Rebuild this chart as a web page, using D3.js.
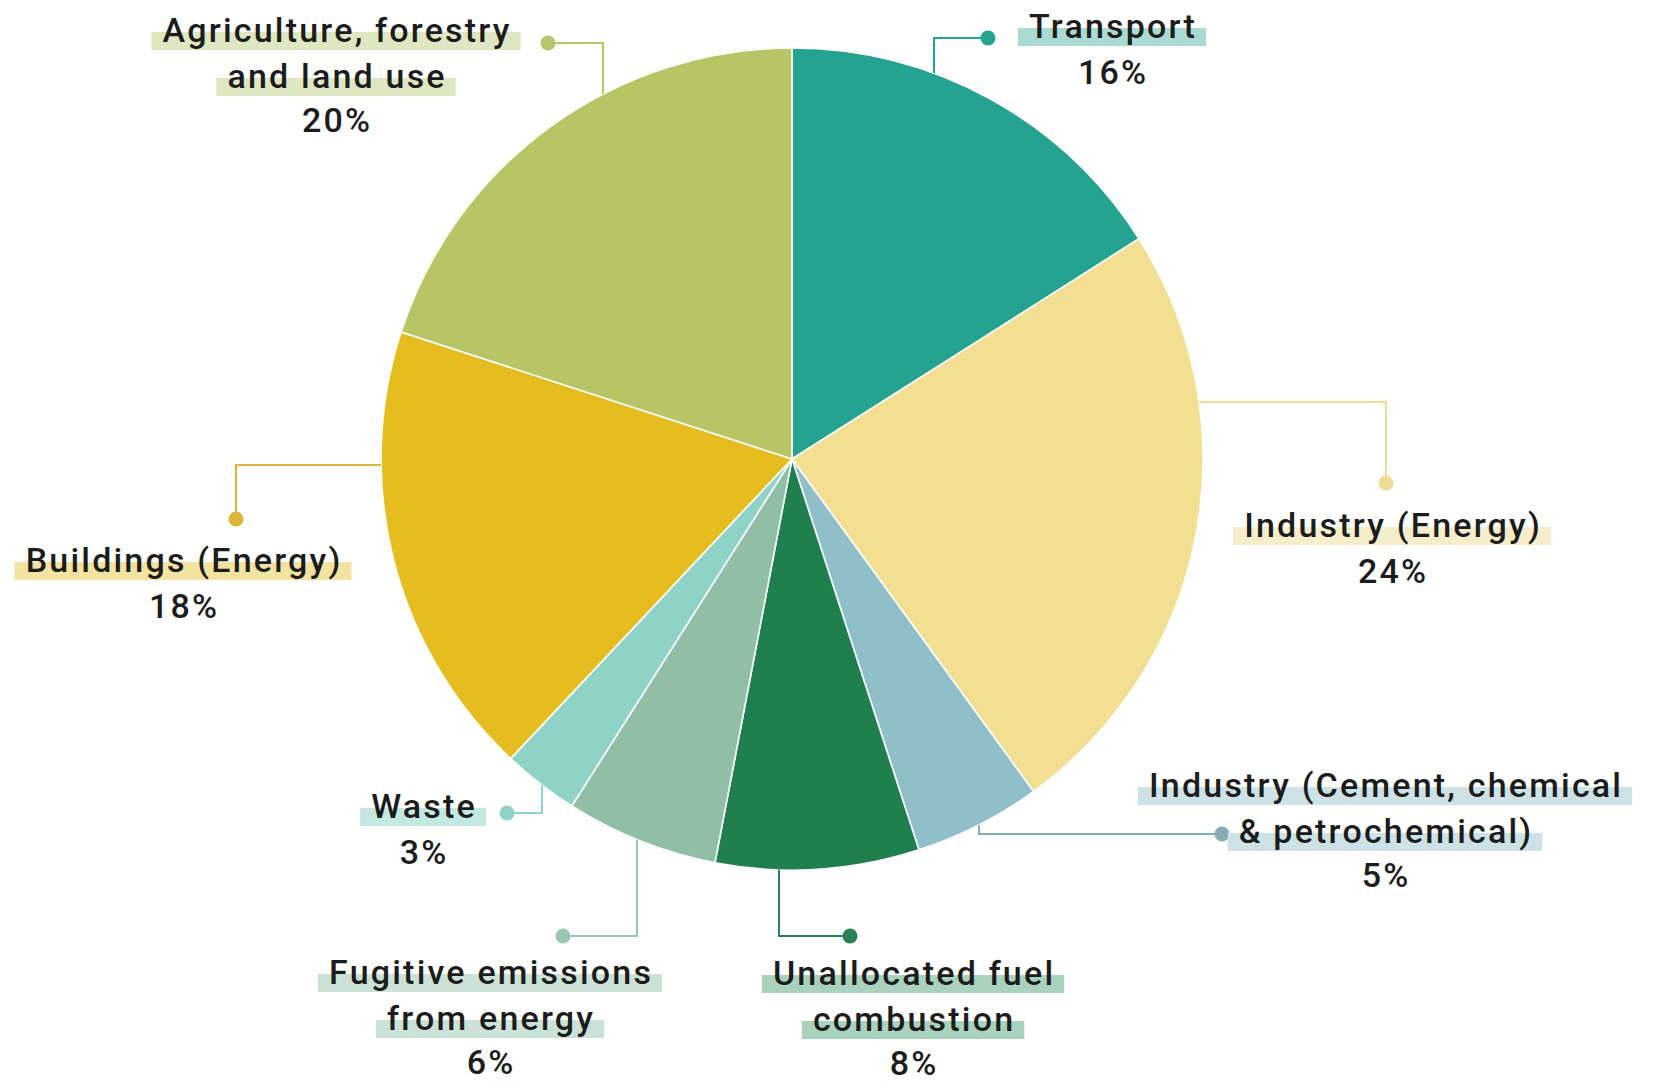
<!DOCTYPE html>
<html>
<head>
<meta charset="utf-8">
<script src="https://cdn.jsdelivr.net/npm/d3@7"></script>
<style>
  html, body { margin: 0; padding: 0; background: #ffffff; }
  svg { display: block; }
  text { font-family: Roboto, "Noto Sans", sans-serif; font-weight: 500; fill: #1c1c1c; }
</style>
</head>
<body>
<svg id="chart" width="1654" height="1085"></svg>
<script>
// Emission sectors, clockwise from 12 o'clock
const sectors = [
  "Transport",
  "Industry (Energy)",
  "Industry (Cement, chemical & petrochemical)",
  "Unallocated fuel combustion",
  "Fugitive emissions from energy",
  "Waste",
  "Buildings (Energy)",
  "Agriculture, forestry and land use"
];
const shares = [16, 24, 5, 8, 6, 3, 18, 20];

// How each sector name is broken over lines
const labelLines = [
  ["Transport"],
  ["Industry (Energy)"],
  ["Industry (Cement, chemical", "& petrochemical)"],
  ["Unallocated fuel", "combustion"],
  ["Fugitive emissions", "from energy"],
  ["Waste"],
  ["Buildings (Energy)"],
  ["Agriculture, forestry", "and land use"]
];

// Slice fills, leader colours and text highlight colours
const sliceColors = ["#25a391", "#f2df92", "#8fc0ca", "#1f7f4e", "#90bfa6", "#8fd3c8", "#e6bd20", "#b8c565"];
const leaderColors = ["#25a391", "#eddb96", "#86adb5", "#2a7f55", "#9cc6b1", "#8fd3c8", "#dcb53a", "#b9c46c"];
const markColors = ["#a9dbd2", "#f6eecb", "#cde2e6", "#a9d2bd", "#cbe3d6", "#c3e8e1", "#f3e3a1", "#dfe7c2"];

// Label placement: text centre / first baseline, leader dot, and leader routing
// kind "v": vertical run at x = run, from the rim to the dot's height, then across to the dot
// kind "h": horizontal run at y = run, from the rim to the dot's x, then down/up to the dot
const layout = [
  { tx: 1112, ty: 38,  dx: 988,  dy: 38,  kind: "v", run: 934 },
  { tx: 1392, ty: 537, dx: 1386, dy: 483, kind: "h", run: 402 },
  { tx: 1385, ty: 797, dx: 1222, dy: 834, kind: "v", run: 979 },
  { tx: 913,  ty: 985, dx: 850,  dy: 936, kind: "v", run: 779 },
  { tx: 490,  ty: 984, dx: 563,  dy: 936, kind: "v", run: 637 },
  { tx: 423,  ty: 818, dx: 507,  dy: 813, kind: "v", run: 542 },
  { tx: 183,  ty: 572, dx: 236,  dy: 519, kind: "h", run: 465 },
  { tx: 336,  ty: 42,  dx: 548,  dy: 43,  kind: "v", run: 603 }
];

const cx = 792, cy = 459, radius = 411;
const lineGap = 46;
const fontSize = 34;
const tracking = 2.2;

const svg = d3.select("#chart");

const data = sectors.map((name, i) => ({ name, value: shares[i], i }));

const pie = d3.pie().sort(null).value(d => d.value);
const arc = d3.arc().innerRadius(0).outerRadius(radius);

const g = svg.append("g").attr("transform", `translate(${cx},${cy})`);

g.selectAll("path.slice")
  .data(pie(data))
  .join("path")
  .attr("class", "slice")
  .attr("d", arc)
  .attr("fill", d => sliceColors[d.data.i])
  .attr("stroke", "#ffffff")
  .attr("stroke-width", 1.6)
  .attr("stroke-linejoin", "round");

// Leader lines from the rim to a dot next to each label
const leaders = svg.append("g");
layout.forEach((L, i) => {
  let pts;
  if (L.kind === "v") {
    const dxr = L.run - cx;
    const half = Math.sqrt(Math.max(0, radius * radius - dxr * dxr));
    const rimY = L.dy < cy ? cy - half : cy + half;
    pts = [[L.run, rimY], [L.run, L.dy], [L.dx, L.dy]];
  } else {
    const dyr = L.run - cy;
    const half = Math.sqrt(Math.max(0, radius * radius - dyr * dyr));
    const rimX = L.dx < cx ? cx - half : cx + half;
    pts = [[rimX, L.run], [L.dx, L.run], [L.dx, L.dy]];
  }
  leaders.append("path")
    .attr("d", d3.line()(pts))
    .attr("fill", "none")
    .attr("stroke", leaderColors[i])
    .attr("stroke-width", 2);
  leaders.append("circle")
    .attr("cx", L.dx).attr("cy", L.dy).attr("r", 7.5)
    .attr("fill", leaderColors[i]);
});

// Labels: highlighted sector name lines plus the share
const labels = svg.append("g");
data.forEach(d => {
  const L = layout[d.i];
  const grp = labels.append("g");
  const marks = grp.append("g");
  const lines = labelLines[d.i];
  lines.forEach((ln, k) => {
    const y = L.ty + k * lineGap;
    const t = grp.append("text")
      .attr("x", L.tx + tracking / 2).attr("y", y)
      .attr("text-anchor", "middle")
      .attr("font-size", fontSize)
      .attr("letter-spacing", tracking)
      .text(ln);
    const w = t.node().getComputedTextLength();
    marks.append("rect")
      .attr("x", L.tx - w / 2 - 10)
      .attr("y", y - 10)
      .attr("width", w + 20)
      .attr("height", 18)
      .attr("fill", markColors[d.i]);
  });
  grp.append("text")
    .attr("x", L.tx + tracking / 2).attr("y", L.ty + lines.length * lineGap - (lines.length > 1 ? 2 : 0))
    .attr("text-anchor", "middle")
    .attr("font-size", fontSize)
    .attr("letter-spacing", tracking)
    .text(d.value + "%");
});
</script>
</body>
</html>
